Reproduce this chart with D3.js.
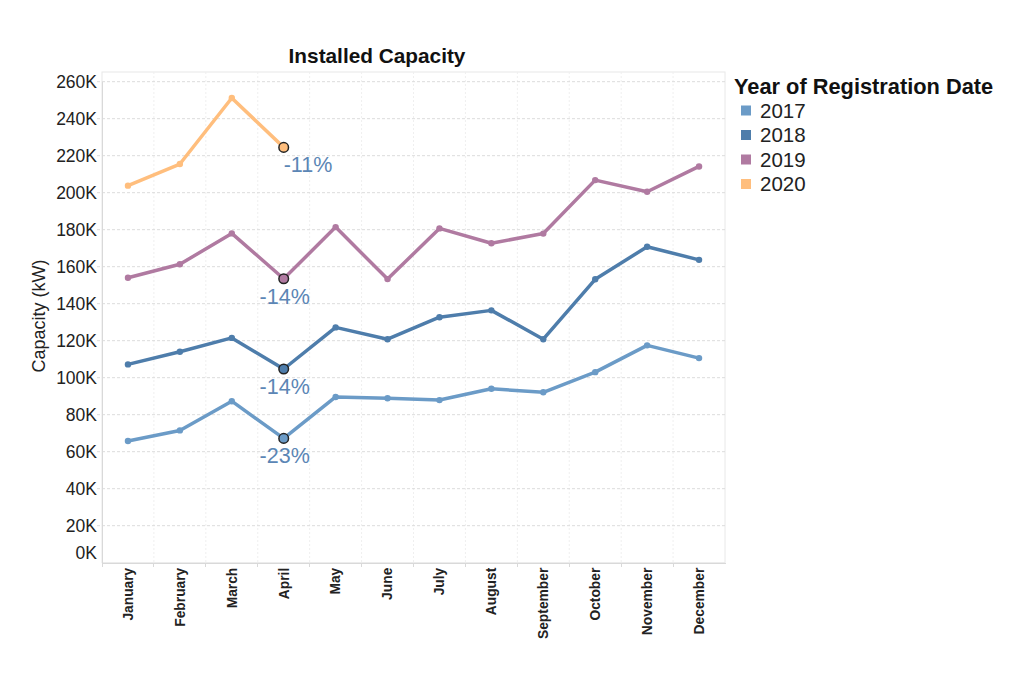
<!DOCTYPE html>
<html lang="en">
<head>
    <meta charset="utf-8">
    <title>Installed Capacity</title>
    <script src="https://d3js.org/d3.v7.min.js"></script>
    <style>
        body { margin: 0; background: #fff; font-family: "Liberation Sans", Arial, sans-serif; }
        .grid line { stroke: #dcdcdc; stroke-dasharray: 3,2; }
        .vgrid line { stroke: #efefef; stroke-dasharray: 2,2; }
        .axis path, .axis line { stroke: #d9d9d9; shape-rendering: crispEdges; }
        .axis text { fill: #222; }
    </style>
</head>
<body>
<script>
    // data (kW)
    var months = ["January", "February", "March", "April", "May", "June", "July",
        "August", "September", "October", "November", "December"];
    var years = ["2017", "2018", "2019", "2020"];
    var colors = ["#6b9bc7", "#4e7dab", "#b07aa1", "#ffbe7d"];
    var cap2017 = [65800, 71500, 87300, 67200, 89600, 88900, 87900, 94000, 92100, 103000, 117500, 110600];
    var cap2018 = [107200, 114000, 121500, 104700, 127200, 120800, 132700, 136400, 120800, 153200, 170800, 163700];
    var cap2019 = [154000, 161300, 178000, 153500, 181400, 153300, 180700, 172700, 177900, 206800, 200500, 214200];
    var cap2020 = [203800, 215500, 251200, 224500];
    var changeLabels = ["-23%", "-14%", "-14%", "-11%"];
    var yTicks = [0, 20000, 40000, 60000, 80000, 100000, 120000, 140000, 160000, 180000, 200000, 220000, 240000, 260000];

    var series = [cap2017, cap2018, cap2019, cap2020];

    var margin = { top: 72, left: 102 };
    var w = 623;
    var h = 490.7;

    var svg = d3.select("body").append("svg")
        .attr("width", 1024)
        .attr("height", 689);

    var g = svg.append("g")
        .attr("transform", "translate(" + margin.left + "," + margin.top + ")");

    var xScale = d3.scaleBand().domain(months).range([0, w]);
    var yScale = d3.scaleLinear().domain([0, 260000]).range([h, 9.7]);

    // pane border
    g.append("rect")
        .attr("width", w).attr("height", h)
        .attr("fill", "none")
        .attr("stroke", "#e8e8e8");

    // vertical month separators
    g.append("g").attr("class", "vgrid")
        .selectAll("line")
        .data(months.slice(1))
        .enter().append("line")
        .attr("x1", function (d) { return xScale(d); })
        .attr("x2", function (d) { return xScale(d); })
        .attr("y1", 0).attr("y2", h);

    // horizontal grid
    g.append("g").attr("class", "grid")
        .selectAll("line")
        .data(yTicks.slice(1))
        .enter().append("line")
        .attr("x1", -5).attr("x2", w)
        .attr("y1", function (d) { return yScale(d); })
        .attr("y2", function (d) { return yScale(d); });

    // y axis
    var yAxis = g.append("g").attr("class", "axis")
        .call(d3.axisLeft(yScale)
            .tickValues(yTicks)
            .tickSize(0)
            .tickPadding(5)
            .tickFormat(function (d) { return (d / 1000) + "K"; }));
    yAxis.select(".domain").attr("stroke", "#e8e8e8");
    yAxis.selectAll("text")
        .style("font-size", "17.5px")
        .attr("dy", function (d) { return d === 0 ? "-0.25em" : "0.35em"; });

    // x axis
    var xAxis = g.append("g").attr("class", "axis")
        .attr("transform", "translate(0," + h + ")")
        .call(d3.axisBottom(xScale).tickSize(0).tickPadding(0));
    xAxis.selectAll(".tick line").remove();
    xAxis.selectAll(".tick text")
        .attr("transform", "rotate(-90)")
        .attr("x", -5)
        .attr("y", 0)
        .attr("dy", "0.35em")
        .style("text-anchor", "end")
        .style("font-size", "13.8px")
        .style("font-weight", "bold");
    xAxis.append("g")
        .selectAll("line")
        .data(months)
        .enter().append("line")
        .attr("x1", function (d) { return xScale(d); })
        .attr("x2", function (d) { return xScale(d); })
        .attr("y1", 0).attr("y2", 4)
        .attr("stroke", "#d9d9d9");

    // lines
    var line = d3.line()
        .x(function (d, i) { return xScale(months[i]) + xScale.bandwidth() / 2; })
        .y(function (d) { return yScale(d); });

    series.forEach(function (values, s) {
        g.append("path")
            .datum(values)
            .attr("fill", "none")
            .attr("stroke", colors[s])
            .attr("stroke-width", 3.5)
            .attr("stroke-linejoin", "round")
            .attr("d", line);

        g.selectAll(".dot" + s)
            .data(values)
            .enter().append("circle")
            .attr("cx", function (d, i) { return xScale(months[i]) + xScale.bandwidth() / 2; })
            .attr("cy", function (d) { return yScale(d); })
            .attr("r", 3.2)
            .attr("fill", colors[s]);

        // April highlight
        var ax = xScale("April") + xScale.bandwidth() / 2;
        var ay = yScale(values[3]);
        g.append("circle")
            .attr("cx", ax).attr("cy", ay)
            .attr("r", 4.8)
            .attr("fill", colors[s])
            .attr("stroke", "#222")
            .attr("stroke-width", 1.5);

        g.append("text")
            .attr("x", s === 3 ? ax : ax + 1)
            .attr("y", ay + 25)
            .style("text-anchor", s === 3 ? "start" : "middle")
            .style("font-size", "21.5px")
            .attr("fill", "#5b86b5")
            .text(changeLabels[s]);
    });

    // title
    svg.append("text")
        .attr("x", 377)
        .attr("y", 63)
        .style("text-anchor", "middle")
        .style("font-size", "20.8px")
        .style("font-weight", "bold")
        .attr("fill", "#111")
        .text("Installed Capacity");

    // y axis name
    svg.append("text")
        .attr("transform", "rotate(-90)")
        .attr("x", -316)
        .attr("y", 45)
        .style("text-anchor", "middle")
        .style("font-size", "18px")
        .attr("fill", "#222")
        .text("Capacity (kW)");

    // legend
    var legend = svg.append("g").attr("transform", "translate(734,0)");
    legend.append("text")
        .attr("x", 0).attr("y", 93.5)
        .style("font-size", "21.8px")
        .style("font-weight", "bold")
        .attr("fill", "#111")
        .text("Year of Registration Date");

    var items = legend.selectAll(".item")
        .data(years)
        .enter().append("g")
        .attr("transform", function (d, i) { return "translate(0," + (117.5 + i * 24.5) + ")"; });
    items.append("rect")
        .attr("x", 7).attr("y", -12)
        .attr("width", 10).attr("height", 10)
        .attr("fill", function (d, i) { return colors[i]; });
    items.append("text")
        .attr("x", 26).attr("y", 0)
        .style("font-size", "20.5px")
        .attr("fill", "#222")
        .text(function (d) { return d; });
</script>
</body>
</html>
